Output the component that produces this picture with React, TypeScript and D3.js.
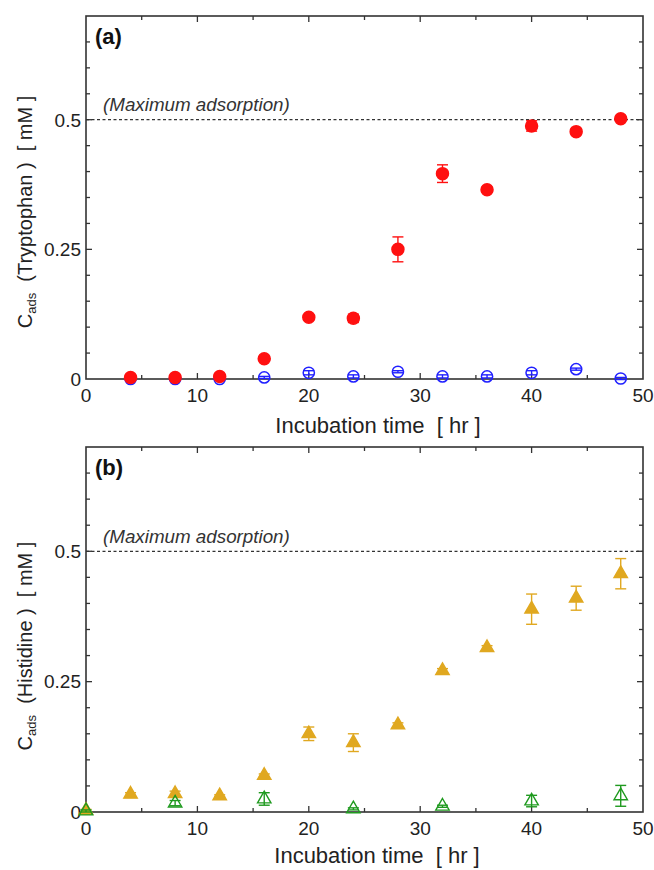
import React from "react";
import * as d3 from "d3";

const W = 654;
const H = 870;

// Panel (a): Tryptophan
const trpTime = [4, 8, 12, 16, 20, 24, 28, 32, 36, 40, 44, 48];
const trpRed = [0.003, 0.003, 0.005, 0.039, 0.119, 0.117, 0.25, 0.396, 0.365, 0.488, 0.477, 0.502];
const trpRedErr = [0.003, 0.003, 0.003, 0.003, 0.004, 0.008, 0.024, 0.017, 0.005, 0.01, 0.006, 0.003];
const trpBlue = [0.0, 0.0, 0.0, 0.003, 0.012, 0.005, 0.014, 0.005, 0.005, 0.012, 0.019, 0.001];
const trpBlueErr = [0.002, 0.002, 0.002, 0.002, 0.004, 0.003, 0.002, 0.003, 0.003, 0.004, 0.002, 0.002];

// Panel (b): Histidine
const hisGoldTime = [0, 4, 8, 12, 16, 20, 24, 28, 32, 36, 40, 44, 48];
const hisGold = [0.003, 0.034, 0.035, 0.031, 0.07, 0.15, 0.133, 0.167, 0.271, 0.315, 0.389, 0.41, 0.457];
const hisGoldErr = [0.002, 0.003, 0.005, 0.002, 0.003, 0.013, 0.017, 0.004, 0.004, 0.004, 0.029, 0.023, 0.029];
const hisGreenTime = [0, 8, 16, 24, 32, 40, 48];
const hisGreen = [0.002, 0.017, 0.025, 0.006, 0.011, 0.021, 0.031];
const hisGreenErr = [0.002, 0.005, 0.012, 0.002, 0.002, 0.011, 0.02];

const xTicks = [0, 10, 20, 30, 40, 50];
const yTicks = [0, 0.25, 0.5];
const yTickLabels = ["0", "0.25", "0.5"];
const maxAdsorption = 0.5;

const FONT = "Liberation Sans, Arial, sans-serif";
const AXIS = "#333";

type Series = {
  t: number[];
  v: number[];
  e: number[];
  color: string;
  shape: "circle" | "triangle";
  filled: boolean;
};

function Panel({
  top,
  bottom,
  label,
  compound,
  series,
  xLabelX,
  xLabelY,
  yLabelCenter,
}: {
  top: number;
  bottom: number;
  label: string;
  compound: string;
  series: Series[];
  xLabelX: number;
  xLabelY: number;
  yLabelCenter: number;
}) {
  const left = 86;
  const right = 643;
  const x = d3.scaleLinear().domain([0, 50]).range([left, right]);
  const y = d3.scaleLinear().domain([0, 0.7]).range([bottom, top]);
  const minorX = d3.range(5, 50, 5);
  const minorY = d3.range(0.05, 0.7, 0.05);
  const tri = d3.symbol().type(d3.symbolTriangle).size(78);

  return (
    <g>
      {/* dashed max line */}
      <line
        x1={left}
        x2={right}
        y1={y(maxAdsorption)}
        y2={y(maxAdsorption)}
        stroke="#333"
        strokeWidth={1.3}
        strokeDasharray="3,2.5"
      />
      <text
        x={103}
        y={y(maxAdsorption) - 8.5}
        fontFamily={FONT}
        fontStyle="italic"
        fontSize={18.8}
        fill="#333"
      >
        (Maximum adsorption)
      </text>
      <text x={95} y={top + 28} fontFamily={FONT} fontWeight="bold" fontSize={22} fill="#111">
        {label}
      </text>

      {/* ticks */}
      {minorX.map((t) => {
        const major = t % 10 === 0;
        const len = major ? 6 : 4;
        return (
          <g key={"xt" + t}>
            <line x1={x(t)} x2={x(t)} y1={bottom} y2={bottom - len} stroke={AXIS} strokeWidth={1.3} />
            <line x1={x(t)} x2={x(t)} y1={top} y2={top + len} stroke={AXIS} strokeWidth={1.3} />
          </g>
        );
      })}
      {minorY.map((v, i) => {
        const major = Math.abs(v - 0.25) < 1e-6 || Math.abs(v - 0.5) < 1e-6;
        const len = major ? 6 : 4;
        return (
          <g key={"yt" + i}>
            <line x1={left} x2={left + len} y1={y(v)} y2={y(v)} stroke={AXIS} strokeWidth={1.3} />
            <line x1={right} x2={right - len} y1={y(v)} y2={y(v)} stroke={AXIS} strokeWidth={1.3} />
          </g>
        );
      })}

      {/* frame */}
      <rect x={left} y={top} width={right - left} height={bottom - top} fill="none" stroke={AXIS} strokeWidth={1.6} />

      {/* tick labels */}
      {xTicks.map((t) => (
        <text
          key={"xl" + t}
          x={x(t)}
          y={bottom + 23}
          textAnchor="middle"
          fontFamily={FONT}
          fontSize={19}
          fill="#222"
        >
          {t}
        </text>
      ))}
      {yTicks.map((v, i) => (
        <text
          key={"yl" + i}
          x={left - 5}
          y={y(v) + 6.8}
          textAnchor="end"
          fontFamily={FONT}
          fontSize={19}
          fill="#222"
        >
          {yTickLabels[i]}
        </text>
      ))}

      {/* axis titles */}
      <text
        x={xLabelX}
        y={xLabelY}
        textAnchor="middle"
        fontFamily={FONT}
        fontSize={22}
        fill="#222"
        xmlSpace="preserve"
        style={{ whiteSpace: "pre" }}
      >
        {"Incubation time  [ hr ]"}
      </text>
      <text
        transform={`translate(32, ${yLabelCenter}) rotate(-90)`}
        textAnchor="middle"
        fontFamily={FONT}
        fontSize={20}
        fill="#222"
        xmlSpace="preserve"
        style={{ whiteSpace: "pre" }}
      >
        <tspan>C</tspan>
        <tspan fontSize={13} dy={4}>ads</tspan>
        <tspan dy={-4}>{"  (" + compound + " )  [ mM ]"}</tspan>
      </text>

      {/* data */}
      {series.map((s, si) => (
        <g key={"s" + si}>
          {s.t.map((t, i) => {
            const cx = x(t);
            const cy = y(s.v[i]);
            const y1 = y(s.v[i] + s.e[i]);
            const y2 = y(s.v[i] - s.e[i]);
            return (
              <g key={i}>
                <line x1={cx} x2={cx} y1={y1} y2={y2} stroke={s.color} strokeWidth={1.4} />
                <line x1={cx - 5.5} x2={cx + 5.5} y1={y1} y2={y1} stroke={s.color} strokeWidth={1.4} />
                <line x1={cx - 5.5} x2={cx + 5.5} y1={y2} y2={y2} stroke={s.color} strokeWidth={1.4} />
                {s.shape === "circle" ? (
                  <circle
                    cx={cx}
                    cy={cy}
                    r={s.filled ? 6 : 5.6}
                    fill={s.filled ? s.color : "none"}
                    stroke={s.color}
                    strokeWidth={1.5}
                  />
                ) : (
                  <path
                    d={tri() as string}
                    transform={`translate(${cx},${cy})`}
                    fill={s.filled ? s.color : "none"}
                    stroke={s.color}
                    strokeWidth={1.4}
                  />
                )}
              </g>
            );
          })}
        </g>
      ))}
    </g>
  );
}

export default function App() {
  return (
    <svg
      width={W}
      height={H}
      style={{ position: "absolute", left: 0, top: 0, background: "#fff" }}
    >
      <rect width={W} height={H} fill="#fff" />
      <Panel
        top={16}
        bottom={379}
        label="(a)"
        compound="Tryptophan"
        xLabelX={378}
        xLabelY={433}
        yLabelCenter={212}
        series={[
          { t: trpTime, v: trpBlue, e: trpBlueErr, color: "#2020ff", shape: "circle", filled: false },
          { t: trpTime, v: trpRed, e: trpRedErr, color: "#ff1010", shape: "circle", filled: true },
        ]}
      />
      <Panel
        top={447}
        bottom={812}
        label="(b)"
        compound="Histidine"
        xLabelX={377}
        xLabelY={863}
        yLabelCenter={646}
        series={[
          { t: hisGoldTime, v: hisGold, e: hisGoldErr, color: "#e0a820", shape: "triangle", filled: true },
          { t: hisGreenTime, v: hisGreen, e: hisGreenErr, color: "#1f9a1f", shape: "triangle", filled: false },
        ]}
      />
    </svg>
  );
}
